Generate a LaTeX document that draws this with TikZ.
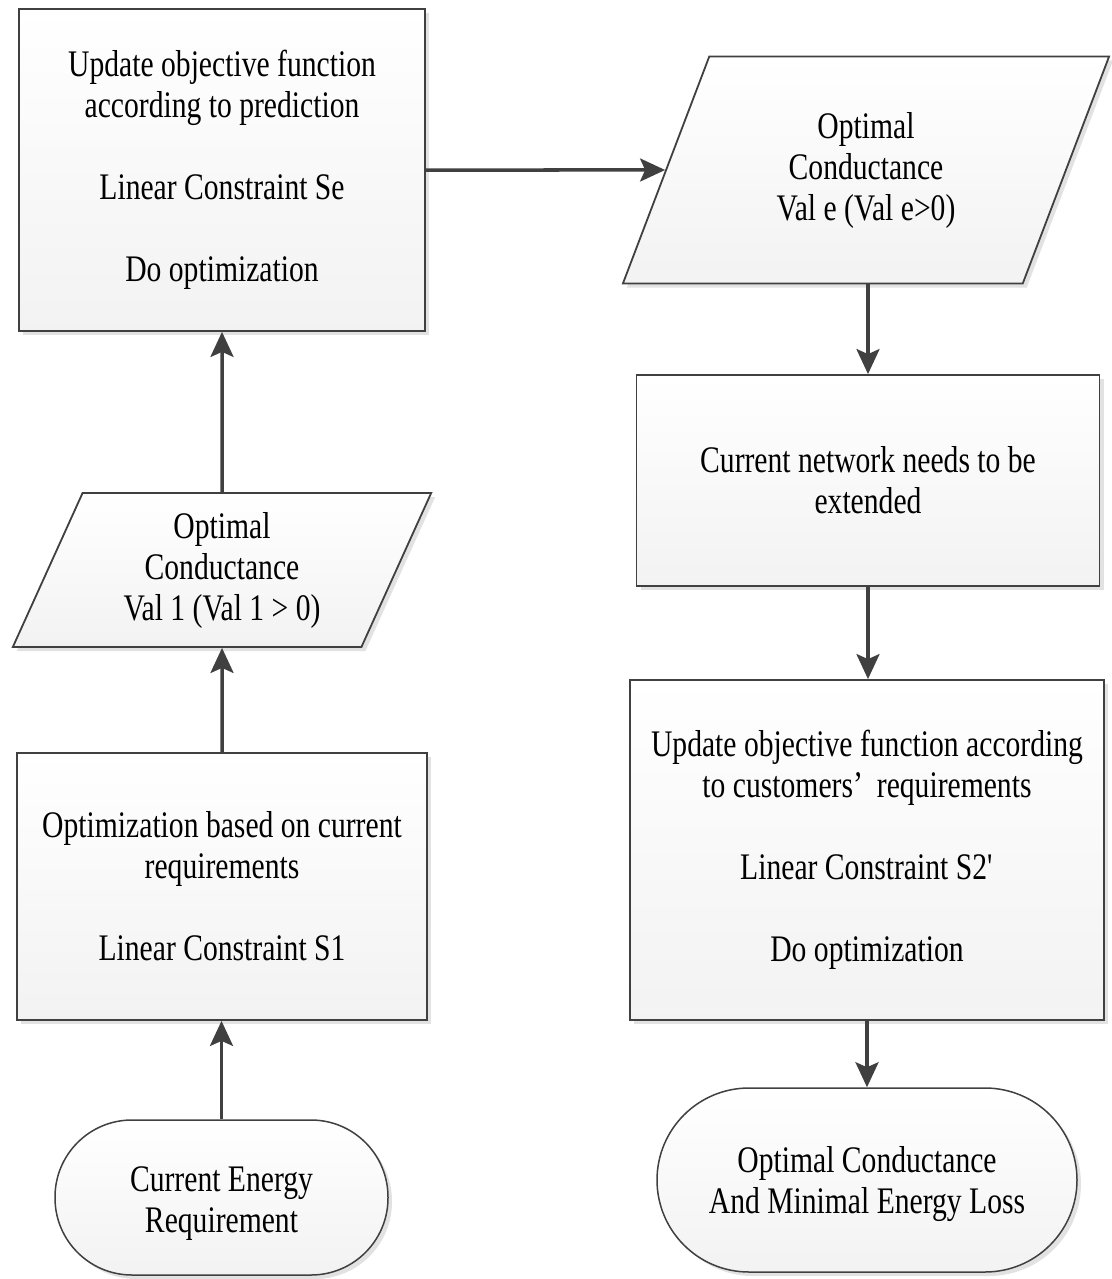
\documentclass[tikz,border=0pt]{standalone}
\usepackage{fontspec}
\setmainfont{Liberation Serif}[FakeStretch=0.79]
\usetikzlibrary{shapes.geometric,shadows,arrows.meta}
\definecolor{linec}{HTML}{404040}
\begin{document}
\begin{tikzpicture}[x=1pt,y=-1pt,
  font=\fontsize{37.5}{41}\selectfont,
  shd/.style={top color=white, bottom color=black!5,
    drop shadow={shadow xshift=4pt, shadow yshift=-4pt, opacity=0.25, fill=black!45}},
  proc/.style={rectangle, draw=linec, line width=1.8pt, shd, align=center, inner sep=0pt},
  io/.style={trapezium, trapezium left angle=67, trapezium right angle=113,
    trapezium stretches=true, draw=linec, line width=1.8pt, shd, align=center, inner sep=0pt},
  term/.style={rectangle, draw=linec, line width=1.5pt, shd, align=center, inner sep=0pt},
  conn/.style={-{Stealth[length=25pt,width=23pt,inset=5pt]}, line width=3.5pt, draw=linec}]
\useasboundingbox (0,0) rectangle (1111,1279);

\node[proc, minimum width=406pt, minimum height=322pt] (A) at (222,170)
  {Update objective function\\according to prediction\\[41pt]Linear Constraint Se\\[41pt]Do optimization};
\node[io, minimum width=487pt, minimum height=227pt] (B) at (866,170)
  {Optimal\\Conductance\\Val e (Val e>0)};
\node[proc, minimum width=463pt, minimum height=211pt] (C) at (868,480.5)
  {Current network needs to be\\extended};
\node[proc, minimum width=474pt, minimum height=340pt] (D) at (867,850)
  {Update objective function according\\to customers’\hspace{14pt}requirements\\[41pt]Linear Constraint S2\textquotesingle\\[41pt]Do optimization};
\node[term, minimum width=420pt, minimum height=184pt, rounded corners=92pt] (E) at (867,1180)
  {\rule{0pt}{34pt}Optimal Conductance\\And Minimal Energy Loss};
\node[term, minimum width=333pt, minimum height=155pt, rounded corners=77pt] (F) at (221.5,1197.5)
  {\rule{0pt}{36pt}Current Energy\\Requirement};
\node[proc, minimum width=410pt, minimum height=267pt] (G) at (222,886.5)
  {Optimization based on current\\requirements\\[41pt]Linear Constraint S1};
\node[io, minimum width=420pt, minimum height=154pt] (H) at (222,570)
  {Optimal\\Conductance\\Val 1 (Val 1 > 0)};

\draw[conn] (A.east) -- (B.west);
\draw[conn] (C.north |- B.south) -- (C.north);
\draw[conn] (C.south) -- (C.south |- D.north);
\draw[conn] (D.south) -- (E.north);
\draw[conn] (F.north) -- (F.north |- G.south);
\draw[conn] (G.north) -- (H.south);
\draw[conn] (H.north) -- (A.south);
\end{tikzpicture}
\end{document}
